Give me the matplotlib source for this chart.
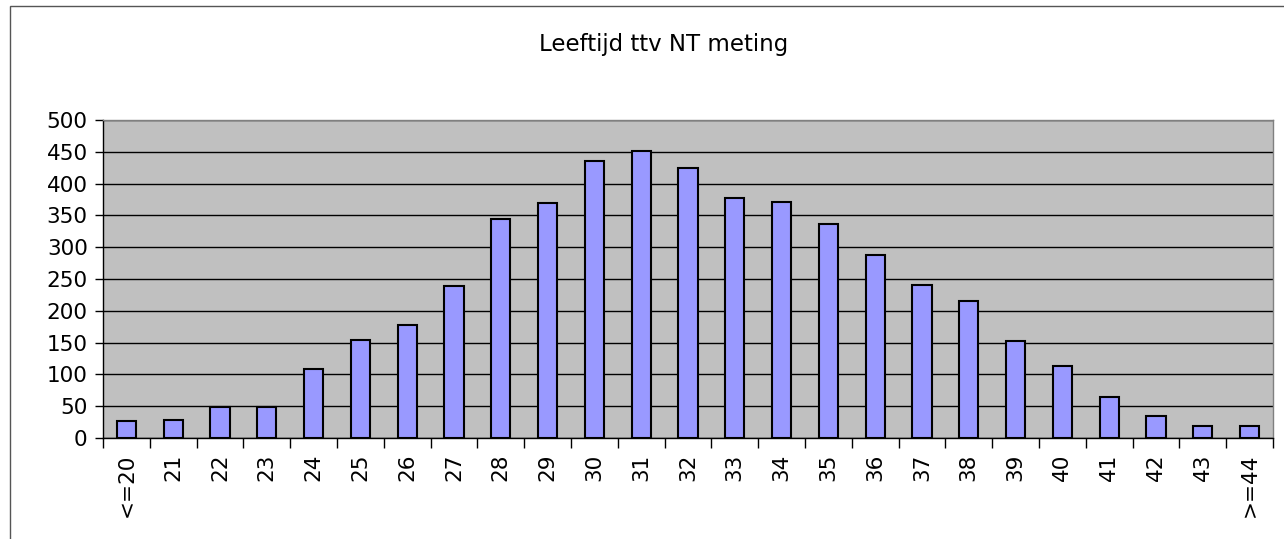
import numpy as np
import matplotlib.pyplot as plt
from matplotlib.patches import Rectangle

# ── Data ──────────────────────────────────────────────────────────────────────
categories = ["<=20", "21", "22", "23", "24", "25", "26", "27", "28", "29",
              "30", "31", "32", "33", "34", "35", "36", "37", "38", "39",
              "40", "41", "42", "43", ">=44"]
counts = [26, 28, 49, 48, 109, 154, 177, 239, 344, 369,
          436, 451, 424, 378, 371, 336, 288, 241, 216, 153,
          113, 65, 34, 19, 19]
y_ticks = [0, 50, 100, 150, 200, 250, 300, 350, 400, 450, 500]
title = "Leeftijd ttv NT meting"

plt.rcParams["font.family"] = ["DejaVu Sans"]

fig = plt.figure(figsize=(12.84, 5.39), dpi=100)
fig.patch.set_facecolor("white")

# chart-area border (left + top visible)
fig.patches.append(Rectangle((10 / 1284, -0.05), 1.2, 1 - 6 / 539 + 0.05,
                             transform=fig.transFigure, fill=False,
                             edgecolor="#555555", linewidth=1.0))

ax = fig.add_axes([103 / 1284, 1 - 438 / 539, (1273 - 103) / 1284, (438 - 120) / 539])
ax.set_facecolor("#C0C0C0")

x = np.arange(len(categories))
ax.bar(x, counts, width=0.41, color="#9999FF", edgecolor="black", linewidth=1.5, zorder=3)

ax.set_xlim(-0.5, len(categories) - 0.5)
ax.set_ylim(0, 500)
ax.set_yticks(y_ticks)
ax.tick_params(axis="y", labelsize=15.5, length=6, width=1, direction="out", pad=5)
ax.yaxis.grid(True, color="black", linewidth=1, zorder=1)
ax.set_axisbelow(True)

ax.set_xticks(x)
ax.set_xticklabels(categories, rotation=90, fontsize=15.5)
ax.tick_params(axis="x", which="major", length=0, pad=11)
ax.set_xticks(np.arange(-0.5, len(categories)), minor=True)
ax.tick_params(axis="x", which="minor", length=7, width=1, direction="out")

for side in ["top", "right"]:
    ax.spines[side].set_color("#808080")
    ax.spines[side].set_linewidth(1)
for side in ["left", "bottom"]:
    ax.spines[side].set_color("black")
    ax.spines[side].set_linewidth(1)

fig.text(664 / 1284, 1 - 45 / 539, title, ha="center", va="center", fontsize=16.5)

fig.savefig("out.png", dpi=100)
